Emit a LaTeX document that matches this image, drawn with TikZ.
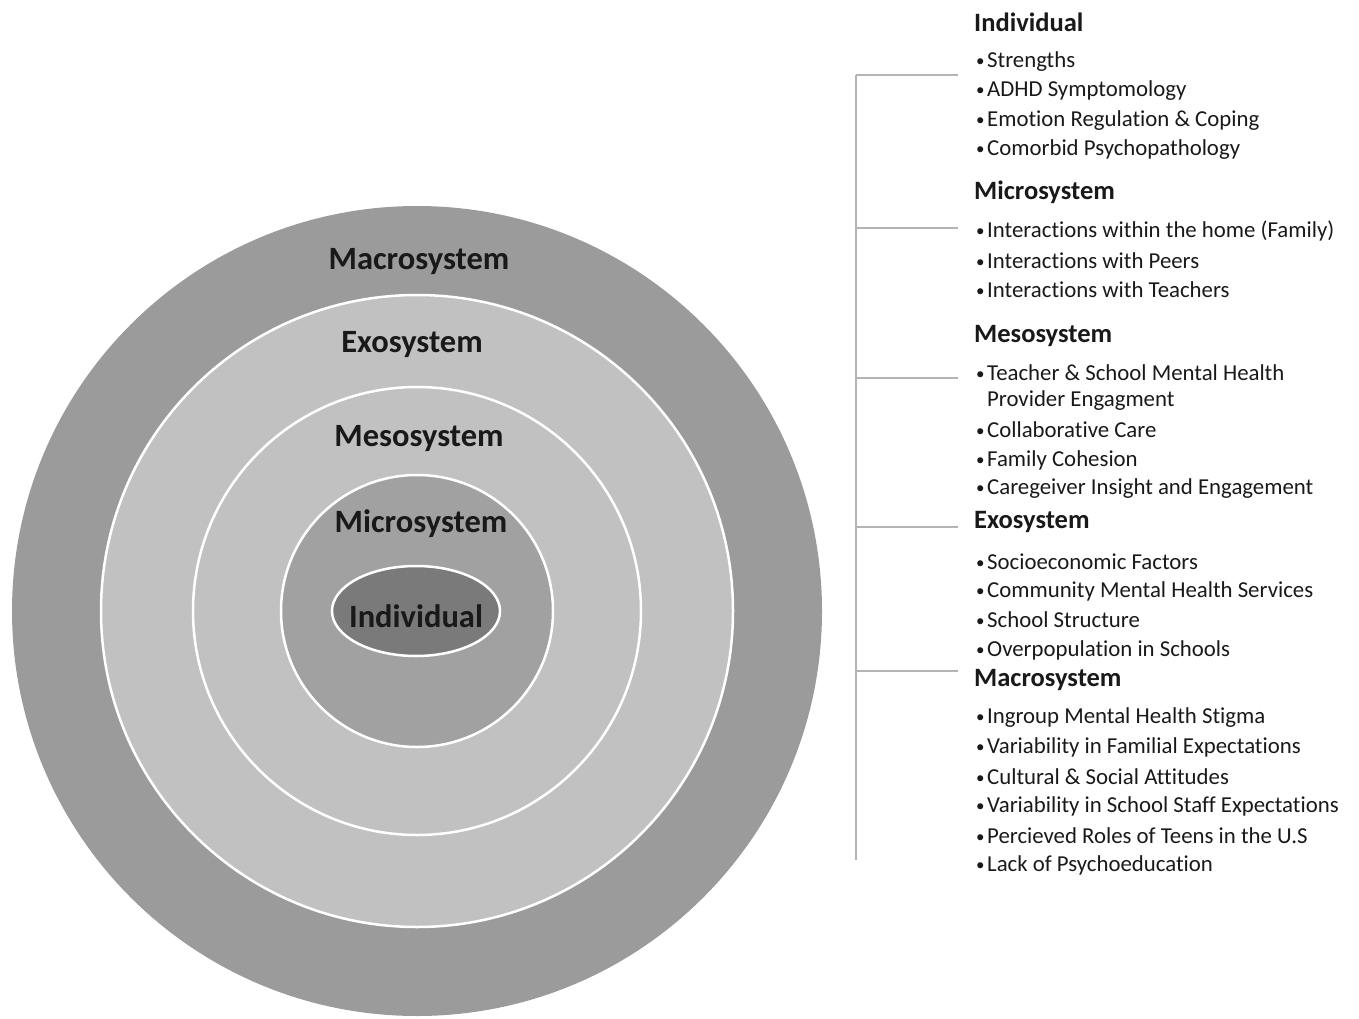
\documentclass[tikz,border=0pt]{standalone}
\usepackage{fontspec}
\setmainfont[Ligatures=NoCommon]{Carlito}
\usepackage{xcolor}
\usepackage{tikz}
\usetikzlibrary{calc}
\definecolor{macrogray}{RGB}{155,155,155}
\definecolor{exogray}{RGB}{193,193,193}
\definecolor{microgray}{RGB}{161,161,161}
\definecolor{indivgray}{RGB}{122,122,122}
\definecolor{linegray}{RGB}{180,180,180}
\tikzset{
	ringlabel/.style={font=\fontsize{32.5}{38}\selectfont\bfseries, text=black!90},
	ring/.style={draw=white, line width=2.5pt},
	head/.style={anchor=west, inner sep=0pt, font=\fontsize{26.5}{30}\selectfont\bfseries, text=black!90},
	item/.style={anchor=west, inner sep=0pt, font=\fontsize{22.8}{26}\selectfont, align=left, text=black!90},
	bracket/.style={draw=linegray, line width=2pt},
}
\newcommand{\bul}{\raisebox{1pt}{\fontsize{17}{20}\selectfont\textbullet}\hspace{2.5pt}}

\begin{document}
\begin{tikzpicture}[x=1pt, y=-1pt]
\useasboundingbox (0,0) rectangle (1359,1019);
% draw the rings
	\fill[macrogray] (417,611) circle (405);
	\filldraw[ring, fill=exogray] (417,611) circle (316);
	\filldraw[ring, fill=exogray] (417,611) circle (224);
	\filldraw[ring, fill=microgray] (417,611) circle (136);
	\filldraw[ring, fill=indivgray] (416,611) ellipse (84 and 45);

% ring labels
	\node[ringlabel] (macro) at (419,262) {Macrosystem};
	\node[ringlabel] (exo) at (412,345) {Exosystem};
	\node[ringlabel] (meso) at (419,439) {Mesosystem};
	\node[ringlabel] (micro) at (421,524) {Microsystem};
	\node[ringlabel] (indiv) at (416,616) {Individual};

% bracket
	\coordinate (spinetop) at (856,75);
	\coordinate (spinebot) at (856,860);
	\coordinate (tickindiv) at (958,75);
	\coordinate (spinemicro) at (856,228);
	\coordinate (tickmicro) at (958,228);
	\coordinate (spinemeso) at (856,378);
	\coordinate (tickmeso) at (958,378);
	\coordinate (spineexo) at (856,527);
	\coordinate (tickexo) at (958,527);
	\coordinate (spinemacro) at (856,671);
	\coordinate (tickmacro) at (958,671);
	\draw[bracket] (spinetop) -- (spinebot);
	\draw[bracket] (spinetop) -- (tickindiv);
	\draw[bracket] (spinemicro) -- (tickmicro);
	\draw[bracket] (spinemeso) -- (tickmeso);
	\draw[bracket] (spineexo) -- (tickexo);
	\draw[bracket] (spinemacro) -- (tickmacro);

% individual
	\node[head] (hindiv) at (974,22) {Individual};
	\node[item] (strengths) at (976,62) {\bul Strengths};
	\node[item] (adhd) at (976,91) {\bul ADHD Symptomology};
	\node[item] (emotion) at (976,121) {\bul Emotion Regulation \& Coping};
	\node[item] (comorbid) at (976,150) {\bul Comorbid Psychopathology};

% microsystem
	\node[head] (hmicro) at (974,192) {Microsystem};
	\node[item] (home) at (976,231) {\bul Interactions within the home (Family)};
	\node[item] (peers) at (976,261) {\bul Interactions with Peers};
	\node[item] (teachers) at (976,290) {\bul Interactions with Teachers};

% mesosystem
	\node[head] (hmeso) at (974,336) {Mesosystem};
	\node[item] (provider) at (976,388) {\bul Teacher \& School Mental Health\\\phantom{\bul}Provider Engagment};
	\node[item] (collab) at (976,430) {\bul Collaborative Care};
	\node[item] (cohesion) at (976,460) {\bul Family Cohesion};
	\node[item] (caregiver) at (976,489) {\bul Caregeiver Insight and Engagement};

% exosystem
	\node[head] (hexo) at (974,522) {Exosystem};
	\node[item] (socio) at (976,562) {\bul Socioeconomic Factors};
	\node[item] (community) at (976,591) {\bul Community Mental Health Services};
	\node[item] (structure) at (976,620) {\bul School Structure};
	\node[item] (overpop) at (976,650) {\bul Overpopulation in Schools};

% macrosystem
	\node[head] (hmacro) at (974,680) {Macrosystem};
	\node[item] (stigma) at (976,718) {\bul Ingroup Mental Health Stigma};
	\node[item] (familial) at (976,747) {\bul Variability in Familial Expectations};
	\node[item] (cultural) at (976,777) {\bul Cultural \& Social Attitudes};
	\node[item] (staff) at (976,806) {\bul Variability in School Staff Expectations};
	\node[item] (roles) at (976,836) {\bul Percieved Roles of Teens in the U.S};
	\node[item] (psycho) at (976,865) {\bul Lack of Psychoeducation};
\end{tikzpicture}
\end{document}
